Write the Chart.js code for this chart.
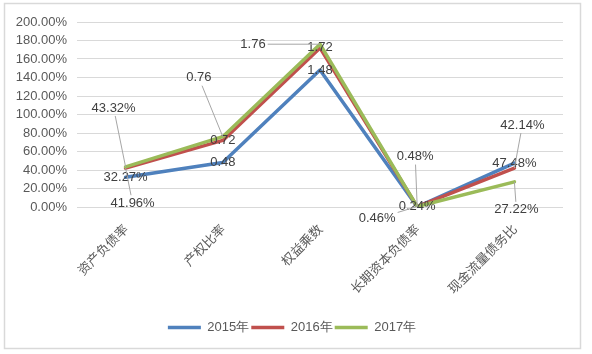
<!DOCTYPE html>
<html>
<head>
<meta charset="utf-8">
<script src="https://cdn.jsdelivr.net/npm/chart.js@4/dist/chart.umd.min.js"></script>
<style>
html,body{margin:0;padding:0;background:#fff;}
canvas{display:block;}
</style>
</head>
<body>
<canvas id="c" width="592" height="354"></canvas>
<script>
// ---- data ----
const categories = ['资产负债率', '产权比率', '权益乘数', '长期资本负债率', '现金流量债务比'];
const seriesNames = ['2015年', '2016年', '2017年'];
const values2015 = [32.27, 48, 148, 0.24, 47.48];
const values2016 = [41.96, 72, 172, 0.46, 42.14];
const values2017 = [43.32, 76, 176, 0.48, 27.22];
// how each category's value label is written: 'pct' -> "32.27%", 'ratio' -> "0.48"
const labelFormats = ['pct', 'ratio', 'ratio', 'pct', 'pct'];
const yTicks = [0, 20, 40, 60, 80, 100, 120, 140, 160, 180, 200];

// ---- styling / label placement (not data) ----
const colors = ['#4F81BD', '#C0504D', '#9BBB59'];
const labelOffsets = [
  [[0,0],[0,0],[0,0],[0,0],[0,0]],
  [[7,35],[0,0],[0,0],[-40,12],[8,-43]],
  [[-12,-59],[-24,-59],[-67,0],[-2,-50],[2,28]]
];

function fmt(v, i) {
  return labelFormats[i] === 'ratio' ? (v / 100).toFixed(2) : v.toFixed(2) + '%';
}

const frame = {
  id: 'frame',
  beforeDraw(chart) {
    const ctx = chart.ctx;
    ctx.save();
    ctx.fillStyle = '#fff';
    ctx.fillRect(0, 0, chart.width, chart.height);
    ctx.strokeStyle = '#d9d9d9';
    ctx.lineWidth = 1.5;
    ctx.strokeRect(4.5, 3.5, 576, 345);
    ctx.restore();
  },
  afterLayout(chart) {
    if (chart.legend) { chart.legend.left += 10.5; chart.legend.right += 10.5; }
  }
};

const valueLabels = {
  id: 'valueLabels',
  afterDatasetsDraw(chart) {
    const ctx = chart.ctx;
    ctx.save();
    ctx.font = '13px "Liberation Sans", Arial, sans-serif';
    ctx.textAlign = 'center';
    ctx.textBaseline = 'middle';
    chart.data.datasets.forEach((ds, di) => {
      const meta = chart.getDatasetMeta(di);
      meta.data.forEach((pt, i) => {
        const txt = fmt(ds.data[i], i);
        const off = labelOffsets[di][i];
        const lx = pt.x + off[0], ly = pt.y + off[1];
        if (off[0] !== 0 || off[1] !== 0) {
          const w = ctx.measureText(txt).width / 2 + 2;
          const h = 8;
          const dx = pt.x - lx, dy = pt.y - ly;
          const t = Math.min(dx !== 0 ? w / Math.abs(dx) : Infinity, dy !== 0 ? h / Math.abs(dy) : Infinity);
          ctx.strokeStyle = '#a6a6a6';
          ctx.lineWidth = 1;
          ctx.beginPath();
          ctx.moveTo(lx + dx * t, ly + dy * t);
          ctx.lineTo(pt.x, pt.y);
          ctx.stroke();
        }
        ctx.fillStyle = '#404040';
        ctx.fillText(txt, lx, ly);
      });
    });
    ctx.restore();
  }
};

const allSeries = [values2015, values2016, values2017];
new Chart(document.getElementById('c'), {
  type: 'line',
  data: {
    labels: categories,
    datasets: allSeries.map((vals, k) => ({
      label: seriesNames[k],
      data: vals,
      borderColor: colors[k],
      backgroundColor: colors[k],
      borderWidth: 3.5,
      borderJoinStyle: 'round',
      borderCapStyle: 'round',
      pointRadius: 0,
      pointHoverRadius: 0,
      tension: 0,
      fill: false,
      order: 3 - k
    }))
  },
  options: {
    responsive: false,
    devicePixelRatio: 1,
    animation: false,
    events: [],
    layout: { padding: { left: 0, right: 29, top: 22, bottom: 10 } },
    plugins: {
      tooltip: { enabled: false },
      legend: {
        position: 'bottom',
        labels: {
          usePointStyle: true,
          pointStyle: 'line',
          pointStyleWidth: 33,
          boxWidth: 33,
          padding: 2,
          color: '#595959',
          font: { family: '"Liberation Sans", Arial, sans-serif', size: 13 },
          sort: (a, b) => a.datasetIndex - b.datasetIndex
        }
      }
    },
    scales: {
      x: {
        offset: true,
        grid: { display: false },
        border: { display: false },
        ticks: {
          minRotation: 45,
          maxRotation: 45,
          padding: 6,
          color: '#595959',
          font: { family: '"Noto Sans CJK SC", sans-serif', size: 13 }
        },
        afterFit(s) { s.height = 112; }
      },
      y: {
        min: 0,
        max: 200,
        afterBuildTicks(s) { s.ticks = yTicks.map(v => ({ value: v })); },
        grid: { color: '#d9d9d9', lineWidth: 1, drawTicks: false },
        border: { display: false },
        ticks: {
          padding: 10,
          autoSkip: false,
          color: '#595959',
          font: { family: '"Liberation Sans", Arial, sans-serif', size: 13 },
          callback: v => v.toFixed(2) + '%'
        },
        afterFit(s) { s.width = 77; }
      }
    }
  },
  plugins: [frame, valueLabels]
});
</script>
</body>
</html>
